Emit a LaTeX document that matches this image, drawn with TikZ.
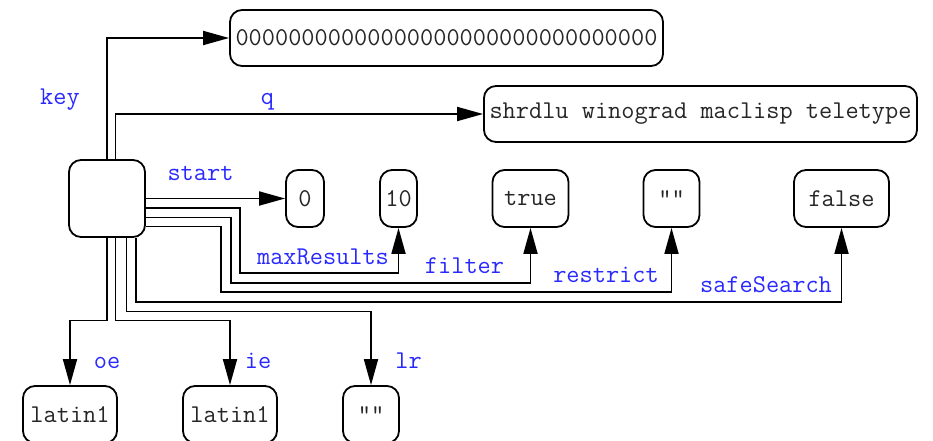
\documentclass[tikz,border=0pt]{standalone}
\usepackage{fontspec}
\usetikzlibrary{arrows.meta,calc}
\definecolor{keyblue}{RGB}{40,40,255}
\tikzset{
  valbox/.style={draw, line width=1.8pt, rounded corners=12pt, inner sep=0pt,
    minimum height=57pt, font=\fontsize{25.6}{28}\ttfamily, text=black!85},
  link/.style={line width=1.8pt, -{Triangle[length=26pt,width=14pt]}},
  keylabel/.style={anchor=base, font=\fontsize{25.6}{28}\ttfamily, text=keyblue, inner sep=0pt}
}
\begin{document}
\begin{tikzpicture}[x=1pt,y=-1pt]
\useasboundingbox (0,0) rectangle (933,441);

% record node and its field values
\node[valbox, minimum width=76pt, minimum height=77pt] (hub) at (107,198.5) {};
\node[valbox, minimum width=433pt, minimum height=56pt] (keyv) at (446.5,38) {00000000000000000000000000000000};
\node[valbox, minimum width=433pt, minimum height=56pt] (qv) at (700.5,114) {shrdlu winograd maclisp teletype};
\node[valbox, minimum width=38pt] (startv) at (305,198.5) {0};
\node[valbox, minimum width=37pt] (maxv) at (398.5,198.5) {10};
\node[valbox, minimum width=76pt] (filterv) at (530.5,198.5) {true};
\node[valbox, minimum width=56pt] (restrictv) at (671.5,198.5) {""};
\node[valbox, minimum width=95pt] (safev) at (841.5,198.5) {false};
\node[valbox, minimum width=94pt] (oev) at (70,414.5) {latin1};
\node[valbox, minimum width=94pt] (iev) at (230,414.5) {latin1};
\node[valbox, minimum width=56pt] (lrv) at (371,414.5) {""};

% connectors
\draw[link] (hub.north) |- (keyv.west);
\draw[link] ($(hub.north)+(8.5,0)$) |- (qv.west);
\draw[link] (hub.east) -- (startv.west);
\draw[link] ($(hub.east)+(0,9.5)$) -| (240,273) -| (maxv.south);
\draw[link] ($(hub.east)+(0,19)$) -| (231,282.7) -| (filterv.south);
\draw[link] ($(hub.east)+(0,28)$) -| (221,292.3) -| (restrictv.south);
\draw[link] ($(hub.south)+(29,0)$) -- (136,301.7) -| (safev.south);
\draw[link] ($(hub.south)+(19.5,0)$) -- (126.5,311.5) -| (lrv.north);
\draw[link] ($(hub.south)+(8.5,0)$) -- (115.5,320.5) -| (iev.north);
\draw[link] (hub.south) -- (107,320.5) -| (oev.north);

% field names
\node[keylabel] (lkey) at (60,105) {key};
\node[keylabel] (lq) at (267.5,104) {q};
\node[keylabel] (lstart) at (200.5,180) {start};
\node[keylabel] (lmax) at (323,264) {maxResults};
\node[keylabel] (lfilter) at (464.5,273.3) {filter};
\node[keylabel] (lrestrict) at (606,282.7) {restrict};
\node[keylabel] (lsafe) at (766,292.7) {safeSearch};
\node[keylabel] (loe) at (107,368) {oe};
\node[keylabel] (lie) at (258,368) {ie};
\node[keylabel] (llr) at (408.5,368) {lr};
\end{tikzpicture}
\end{document}
